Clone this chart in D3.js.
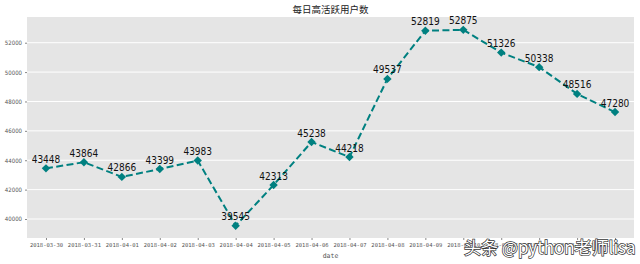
<!DOCTYPE html>
<html>
<head>
<meta charset="utf-8">
<script src="https://cdn.jsdelivr.net/npm/d3@7"></script>
<style>
  body { margin: 0; background: #fff; }
  svg { display: block; }
</style>
</head>
<body>
<div id="chart"></div>
<script>
// data
var dates = ["2018-03-30", "2018-03-31", "2018-04-01", "2018-04-02", "2018-04-03",
             "2018-04-04", "2018-04-05", "2018-04-06", "2018-04-07", "2018-04-08",
             "2018-04-09", "2018-04-10", "2018-04-11", "2018-04-12", "2018-04-13",
             "2018-04-14"];
var users = [43448, 43864, 42866, 43399, 43983, 39545, 42313, 45238, 44218, 49537,
             52819, 52875, 51326, 50338, 48516, 47280];
var yTicks = [40000, 42000, 44000, 46000, 48000, 50000, 52000];

var width = 640, height = 264;
var margin = { top: 17, right: 6, bottom: 26, left: 27 };
var plotW = width - margin.left - margin.right,
    plotH = height - margin.top - margin.bottom;

var svg = d3.select("#chart").append("svg")
    .attr("width", width)
    .attr("height", height);

// title
svg.append("text")
    .attr("x", margin.left + plotW / 2)
    .attr("y", 13)
    .attr("text-anchor", "middle")
    .style("font-family", "'Noto Sans CJK SC', sans-serif")
    .style("font-size", "9.5px")
    .style("fill", "#222")
    .text("每日高活跃用户数");

var g = svg.append("g")
    .attr("transform", "translate(" + margin.left + "," + margin.top + ")");

var x = d3.scalePoint().domain(dates).range([0, plotW]).padding(0.5);
var y = d3.scaleLinear().domain([38707, 53750]).range([plotH, 0]);

// gray panel
g.append("rect")
    .attr("width", plotW)
    .attr("height", plotH)
    .attr("fill", "#e5e5e5");

// horizontal grid only
g.selectAll(".grid")
    .data(yTicks)
    .enter()
    .append("line")
    .attr("class", "grid")
    .attr("x1", 0)
    .attr("x2", plotW)
    .attr("y1", function(d) { return y(d); })
    .attr("y2", function(d) { return y(d); })
    .attr("stroke", "#fff")
    .attr("stroke-width", 1);

// axes
var yAxis = g.append("g")
    .call(d3.axisLeft(y).tickValues(yTicks).tickFormat(d3.format("d")).tickSize(2).tickPadding(3));
yAxis.select(".domain").remove();
yAxis.selectAll("line").attr("stroke", "#888");
yAxis.selectAll("text")
    .style("font-family", "'Liberation Sans Narrow', 'DejaVu Sans Condensed', sans-serif")
    .style("font-size", "6px")
    .style("fill", "#555");

var xAxis = g.append("g")
    .attr("transform", "translate(0," + plotH + ")")
    .call(d3.axisBottom(x).tickSize(2).tickPadding(3));
xAxis.select(".domain").remove();
xAxis.selectAll("line").attr("stroke", "#888");
xAxis.selectAll("text")
    .style("font-family", "'DejaVu Sans Mono', monospace")
    .style("font-size", "5.5px")
    .style("fill", "#555");

// x axis label
svg.append("text")
    .attr("x", margin.left + plotW / 2)
    .attr("y", 258)
    .attr("text-anchor", "middle")
    .style("font-family", "'DejaVu Sans Mono', monospace")
    .style("font-size", "6.5px")
    .style("fill", "#555")
    .text("date");

// dashed line
var line = d3.line()
    .x(function(d, i) { return x(dates[i]); })
    .y(function(d) { return y(d); });

g.append("path")
    .datum(users)
    .attr("d", line)
    .attr("fill", "none")
    .attr("stroke", "#008080")
    .attr("stroke-width", 2)
    .attr("stroke-dasharray", "7,3.4");

// diamond markers
g.selectAll(".pt")
    .data(users)
    .enter()
    .append("path")
    .attr("class", "pt")
    .attr("d", "M0,-4.2L4.2,0L0,4.2L-4.2,0Z")
    .attr("transform", function(d, i) { return "translate(" + x(dates[i]) + "," + y(d) + ")"; })
    .attr("fill", "#008080");

// value labels
g.selectAll(".lbl")
    .data(users)
    .enter()
    .append("text")
    .attr("class", "lbl")
    .attr("x", function(d, i) { return x(dates[i]); })
    .attr("y", function(d) { return y(d) - 5.5; })
    .attr("text-anchor", "middle")
    .style("font-family", "'Liberation Sans Narrow', 'DejaVu Sans Condensed', sans-serif")
    .style("font-size", "10px")
    .style("fill", "#111")
    .text(function(d) { return d; });

// watermark
svg.append("text")
    .attr("x", 464)
    .attr("y", 254)
    .style("font-family", "'Noto Sans CJK SC', sans-serif")
    .style("font-size", "17px")
    .style("fill", "#fff")
    .style("stroke", "#333")
    .style("stroke-width", 1.4)
    .style("paint-order", "stroke")
    .text("头条 @python老师lisa");
</script>
</body>
</html>
